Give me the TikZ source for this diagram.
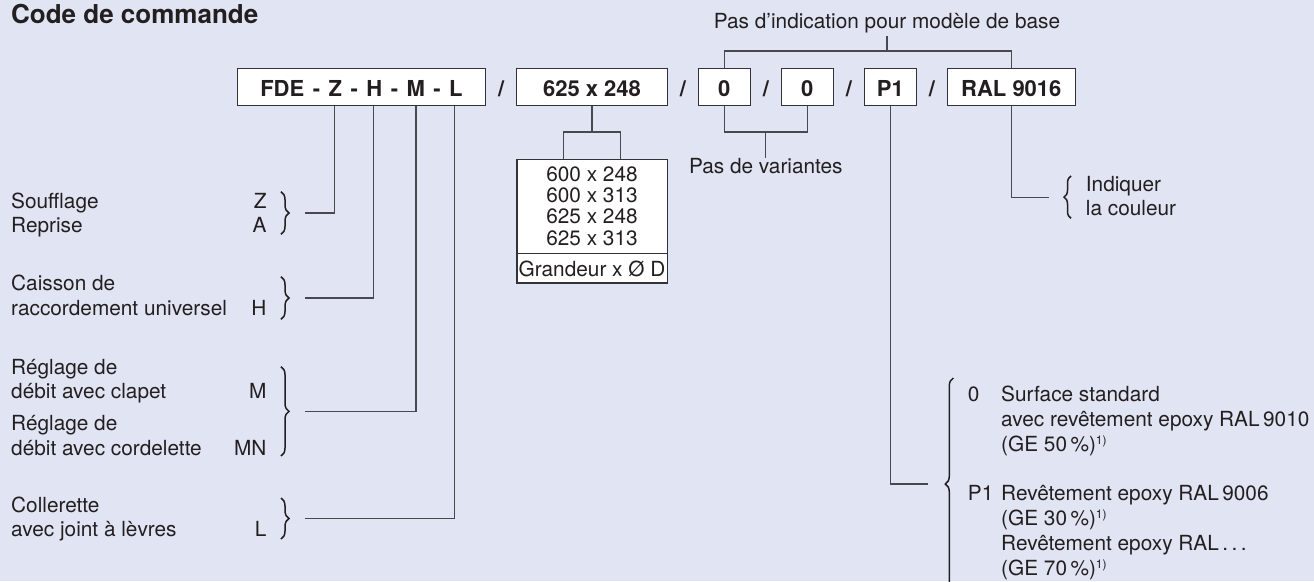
\documentclass[tikz,border=0pt]{standalone}
\usepackage{fontspec}
\setmainfont{TeX Gyre Heros}
\usetikzlibrary{decorations.pathreplacing}
\definecolor{bg}{RGB}{224,228,243}
\definecolor{ink}{RGB}{35,31,32}
\definecolor{wire}{RGB}{72,72,80}
\definecolor{boxline}{RGB}{50,50,56}
\newcommand{\fnref}{\raisebox{7pt}{\fontsize{12}{12}\selectfont 1)}}
\newcommand{\codesp}{\hspace{8.5pt}}
\begin{document}
\begin{tikzpicture}[x=1pt,y=-1pt,
  txt/.style={font=\fontsize{20.8}{24}\selectfont, text=ink, inner sep=0pt, anchor=base west},
  txtr/.style={txt, anchor=base east},
  txtc/.style={txt, anchor=base},
  codefont/.style={font=\fontsize{22}{24}\selectfont\bfseries, text=ink},
  codebox/.style={codefont, draw=boxline, fill=white, line width=1.1pt, minimum height=37pt,
    inner sep=0pt, text height=18.4pt, text depth=0pt},
  slash/.style={codefont, inner sep=0pt, anchor=base},
  conn/.style={draw=wire, line width=1.2pt},
  brc/.style={decorate, decoration={brace, amplitude=#1}, draw=ink, line width=1.5pt},
  brc/.default=8pt]

% canvas
\fill[bg] (0,0) rectangle (1314,581);
\useasboundingbox (0,0) rectangle (1314,581);

% title
\node[font=\fontsize{26}{28}\selectfont\bfseries, text=ink, inner sep=0pt, anchor=base west]
  (title) at (11,23.3) {Code de commande};

% order code boxes
\node[codebox, minimum width=248.4pt] (box1) at (361.5,86.8)
  {FDE\codesp-\codesp Z\codesp-\codesp H\codesp-\codesp M\codesp-\codesp L};
\node[codebox, minimum width=150.6pt] (box2) at (592,86.8) {625 x 248};
\node[codebox, minimum width=52pt] (box3) at (724.3,86.8) {0};
\node[codebox, minimum width=52pt] (box4) at (807.3,86.8) {0};
\node[codebox, minimum width=52pt] (box5) at (890.3,86.8) {P1};
\node[codebox, minimum width=128pt] (box6) at (1011.3,86.8) {RAL 9016};

\node[slash] (sl1) at (501.2,96) {/};
\node[slash] (sl2) at (682.8,96) {/};
\node[slash] (sl3) at (765.8,96) {/};
\node[slash] (sl4) at (848.8,96) {/};
\node[slash] (sl5) at (931.8,96) {/};

% base model note above
\node[txtc, inner ysep=3.5pt] (hdr) at (887,28) {Pas d’indication pour modèle de base};
\coordinate (topbar) at (887,51);
\draw[conn] (box3.north) |- (topbar) -| (box6.north);
\draw[conn] (topbar) -- (hdr.south);

% no variants
\coordinate (pvbar) at (765.8,132);
\node[txtc] (pv) at (765.8,173.3) {Pas de variantes};
\draw[conn] (box3.south) |- (pvbar) -| (box4.south);
\draw[conn] (pvbar) -- (pv.north);

% size table
\node[draw=boxline, fill=white, line width=1.1pt, minimum width=150.3pt, minimum height=123.7pt,
  inner sep=0pt] (sizes) at (592.15,221.15) {};
\draw[draw=boxline, line width=1.1pt] (sizes.west |- 0,253.3) -- (sizes.east |- 0,253.3);
\node[txtc] (s1) at (592,181.7) {600 x 248};
\node[txtc] (s2) at (592,202.7) {600 x 313};
\node[txtc] (s3) at (592,223.3) {625 x 248};
\node[txtc] (s4) at (592,245) {625 x 313};
\node[txtc] (sg) at (592,276) {Grandeur x Ø D};
\coordinate (szbar) at (592,132);
\draw[conn] (box2.south) -- (szbar);
\draw[conn] ([xshift=-28.3pt]sizes.north) |- (szbar) -| ([xshift=28.3pt]sizes.north);

% left legend
\node[txt] (t1a) at (11,208.3) {Soufflage};
\node[txt] (t1b) at (11,232.7) {Reprise};
\node[txtr] (k1a) at (266.7,208.3) {Z};
\node[txtr] (k1b) at (266.7,232.7) {A};
\draw[brc] (281,191.7) -- (281,234.3);

\node[txt] (t2a) at (11,290) {Caisson de};
\node[txt] (t2b) at (11,315.7) {raccordement universel};
\node[txtr] (k2) at (266.7,315.7) {H};
\draw[brc] (281,276.7) -- (281,319.3);

\node[txt] (t3a) at (11,374) {Réglage de};
\node[txt] (t3b) at (11,398.3) {débit avec clapet};
\node[txtr] (k3a) at (266.7,398.3) {M};
\node[txt] (t3c) at (11,430) {Réglage de};
\node[txt] (t3d) at (11,455) {débit avec cordelette};
\node[txtr] (k3b) at (266.7,455) {MN};
\draw[brc] (281,366.7) -- (281,456);

\node[txt] (t4a) at (11,512) {Collerette};
\node[txt] (t4b) at (11,536.5) {avec joint à lèvres};
\node[txtr] (k4) at (266.7,536.5) {L};
\draw[brc] (281,498) -- (281,539);

\coordinate (tipZ) at (305,213);
\coordinate (tipH) at (305,298);
\coordinate (tipM) at (305,411.3);
\coordinate (tipL) at (305,518.5);
\path (box1.south west) ++(97.7,0) coordinate (topZ);
\path (box1.south west) ++(136.7,0) coordinate (topH);
\path (box1.south west) ++(179.2,0) coordinate (topM);
\path (box1.south west) ++(217.7,0) coordinate (topL);
\draw[conn] (tipZ) -| (topZ);
\draw[conn] (tipH) -| (topH);
\draw[conn] (tipM) -| (topM);
\draw[conn] (tipL) -| (topL);

% colour
\coordinate (ralEnd) at (1049.3,197.2);
\draw[conn] (box6.south) |- (ralEnd);
\draw[brc=7pt] (1071,218.3) -- (1071,176);
\node[txt] (c1) at (1085.7,191) {Indiquer};
\node[txt] (c2) at (1085.7,215) {la couleur};

% surface finish
\coordinate (p1End) at (928.3,484);
\draw[conn] (box5.south) |- (p1End);
\draw[brc] (953.3,590) -- (953.3,378);
\node[txt] (f0) at (967.7,401.5) {0};
\node[txt] (f0a) at (1001,401.5) {Surface standard};
\node[txt] (f0b) at (1001,426.5) {avec revêtement epoxy RAL\,9010};
\node[txt] (f0c) at (1001,451.5) {(GE 50\,\%)\fnref};
\node[txt] (f1) at (967.7,500) {P1};
\node[txt] (f1a) at (1001,500) {Revêtement epoxy RAL\,9006};
\node[txt] (f1b) at (1001,525) {(GE 30\,\%)\fnref};
\node[txt] (f1c) at (1001,550) {Revêtement epoxy RAL\,.\,.\,.};
\node[txt] (f1d) at (1001,575) {(GE 70\,\%)\fnref};
\end{tikzpicture}
\end{document}
